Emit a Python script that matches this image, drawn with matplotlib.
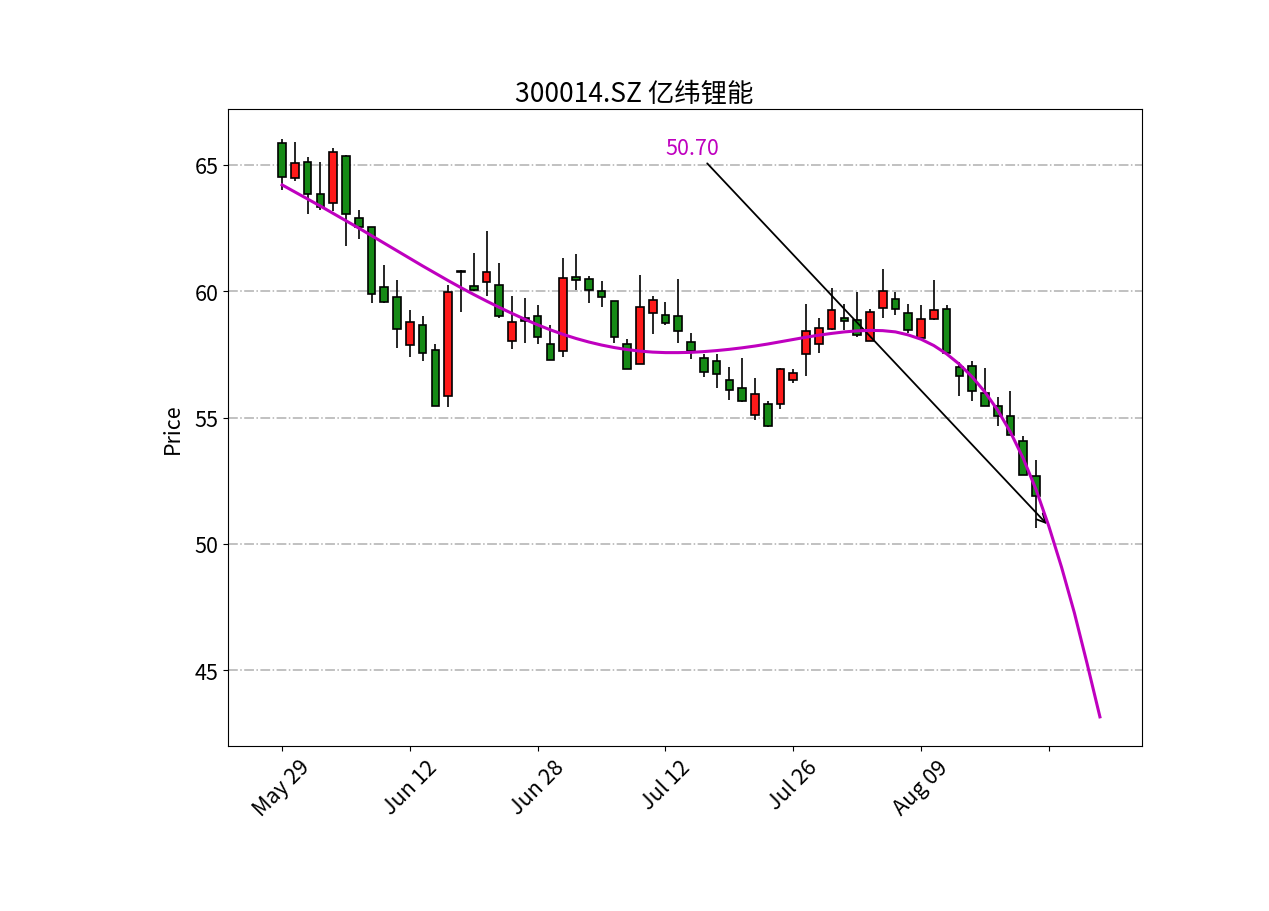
import numpy as np
import matplotlib
import matplotlib.pyplot as plt

matplotlib.use("Agg")
plt.rcParams['font.family'] = ['Noto Sans CJK SC', 'DejaVu Sans']

title = "300014.SZ 亿纬锂能"
tick_pos = [0, 10, 20, 30, 40, 50, 60]
tick_labels = ["May 29", "Jun 12", "Jun 28", "Jul 12", "Jul 26", "Aug 09", ""]

opens = [65.86, 64.48, 65.11, 63.86, 63.51, 65.36, 62.88, 62.53, 60.18, 59.78,
         57.87, 58.65, 57.66, 55.86, 60.82, 60.20, 60.37, 60.24, 58.03, 58.94,
         59.02, 57.90, 57.62, 60.55, 60.49, 59.99, 59.61, 57.93, 57.10, 59.15,
         59.04, 59.02, 58.01, 57.34, 57.22, 56.49, 56.16, 55.10, 55.52, 55.52,
         56.49, 57.50, 57.93, 58.49, 58.95, 58.85, 58.03, 59.35, 59.70, 59.15,
         58.16, 58.91, 59.28, 57.02, 57.04, 55.99, 55.44, 55.07, 54.06, 52.68]
closes = [64.54, 65.07, 63.86, 63.32, 65.50, 63.06, 62.53, 59.90, 59.57, 58.49,
          58.79, 57.57, 55.47, 59.96, 60.75, 60.04, 60.75, 59.02, 58.79, 58.82,
          58.19, 57.27, 60.53, 60.46, 60.04, 59.77, 58.20, 56.91, 59.39, 59.65,
          58.73, 58.41, 57.62, 56.82, 56.72, 56.08, 55.66, 55.95, 54.65, 56.91,
          56.78, 58.42, 58.56, 59.25, 58.82, 58.25, 59.19, 60.00, 59.28, 58.46,
          58.91, 59.25, 57.54, 56.63, 56.06, 55.44, 55.05, 54.32, 52.73, 51.89]
highs = [66.03, 65.90, 65.33, 65.13, 65.66, 65.40, 63.22, 62.55, 61.02, 60.44,
         59.24, 59.02, 57.93, 60.24, 60.86, 61.52, 62.37, 61.12, 59.83, 59.74,
         59.44, 58.65, 61.32, 61.48, 60.59, 60.40, 59.63, 58.10, 60.66, 59.80,
         59.57, 60.49, 58.36, 57.50, 57.50, 57.00, 57.35, 56.55, 55.66, 56.98,
         56.94, 59.48, 58.95, 60.14, 59.50, 59.98, 59.28, 60.89, 59.98, 59.48,
         59.44, 60.46, 59.45, 57.20, 57.24, 56.98, 55.80, 56.06, 54.28, 53.30]
lows = [63.99, 64.37, 63.07, 63.22, 63.16, 61.78, 62.07, 59.54, 59.55, 57.77,
        57.40, 57.24, 55.45, 55.40, 59.17, 60.00, 59.80, 58.95, 57.73, 57.94,
        57.93, 57.27, 57.40, 60.04, 59.54, 59.37, 57.94, 56.91, 57.10, 58.29,
        58.65, 57.96, 57.31, 56.61, 56.15, 55.70, 55.60, 54.91, 54.61, 55.34,
        56.36, 56.63, 57.57, 58.45, 58.46, 58.20, 58.03, 58.95, 59.06, 58.36,
        58.16, 58.86, 57.54, 55.86, 55.66, 55.44, 54.65, 54.32, 52.73, 50.63]

# trend line, one value per day (last 4 are the predicted days)
trend_y = [64.21, 63.93, 63.65, 63.37, 63.08, 62.79, 62.50, 62.20, 61.90, 61.60,
           61.30, 61.00, 60.71, 60.42, 60.14, 59.87, 59.61, 59.36, 59.12, 58.89,
           58.67, 58.47, 58.29, 58.13, 57.99, 57.87, 57.77, 57.69, 57.63, 57.59,
           57.57, 57.57, 57.58, 57.61, 57.65, 57.70, 57.76, 57.83, 57.91, 58.00,
           58.09, 58.18, 58.26, 58.33, 58.39, 58.43, 58.45, 58.44, 58.39, 58.27,
           58.10, 57.85, 57.52, 57.11, 56.61, 56.01, 55.29, 54.42, 53.38, 52.15,
           50.70, 49.07, 47.27, 45.25, 43.15]
pred_day = 60

o = np.array(opens)
c = np.array(closes)
h = np.array(highs)
l = np.array(lows)
idx = np.arange(len(c))

fig = plt.figure(figsize=(12.69, 9.12), dpi=100)
ax = fig.add_axes([0.18, 0.181, 0.72, 0.698])

up = c >= o
colors = np.where(up, "#ff1a1a", "#168a16")
ax.vlines(idx, l, h, color="black", linewidth=1.2, zorder=2)
ax.bar(idx, np.abs(c - o), bottom=np.minimum(o, c), width=0.6,
       color=colors, edgecolor="black", linewidth=1.2, zorder=3)

ax.plot(np.arange(len(trend_y)), trend_y, color="m", linewidth=2.2, zorder=4)

y_pred = trend_y[pred_day]
ax.annotate(f"{y_pred:.2f}", xy=(pred_day, y_pred), xytext=(30, 65.45),
            color="m", fontsize=15.5,
            arrowprops=dict(arrowstyle="->", color="black", linewidth=1.3))

ax.set_xticks(tick_pos)
ax.set_xticklabels(tick_labels, rotation=45, fontsize=15.5)
ax.tick_params(axis="y", labelsize=15.5)
ax.set_xlim(-4.2, 67.3)
ax.set_ylim(42.0, 67.2)
ax.yaxis.grid(True, linestyle="-.", color="#b0b0b0", linewidth=1.1)
ax.set_axisbelow(True)
ax.set_ylabel("Price", fontsize=15.5, labelpad=8)
fig.text(0.5, 0.889, title, ha="center", va="baseline", fontsize=19)

fig.savefig("out.png", dpi=100)
